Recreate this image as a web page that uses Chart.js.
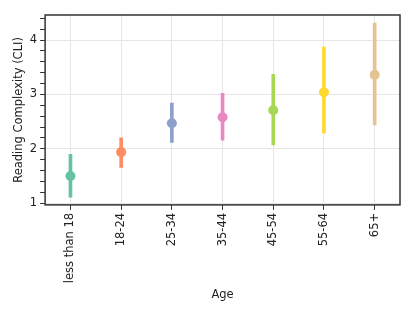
<!DOCTYPE html>
<html>
<head>
<meta charset="utf-8">
<script src="https://cdn.jsdelivr.net/npm/chart.js@4"></script>
<style>
  html, body { margin: 0; padding: 0; background: #fff; }
  #wrap { width: 415px; height: 312px; }
</style>
</head>
<body>
<div id="wrap"><canvas id="chart"></canvas></div>
<script>
const ages = ["less than 18", "18-24", "25-34", "35-44", "45-54", "55-64", "65+"];
const cliMean = [1.50, 1.94, 2.47, 2.58, 2.71, 3.04, 3.36];
const cliLow = [1.11, 1.66, 2.12, 2.16, 2.07, 2.29, 2.44];
const cliHigh = [1.90, 2.20, 2.84, 3.02, 3.37, 3.87, 4.31];
const colors = ["#66c2a5", "#fc8d62", "#8da0cb", "#e78ac3", "#a6d854", "#ffd92f", "#e5c494"];
const yTicks = [1, 1.2, 1.4, 1.6, 1.8, 2, 2.2, 2.4, 2.6, 2.8, 3, 3.2, 3.4, 3.6, 3.8, 4, 4.2, 4.4];

const isMajor = v => Math.abs(v - Math.round(v)) < 1e-6;
const font = { family: "DejaVu Sans", size: 11.5 };

/* frame around the plot */
const frame = {
  id: "frame",
  afterDraw(chart) {
    const a = chart.chartArea, ctx = chart.ctx;
    ctx.save();
    ctx.strokeStyle = "#333";
    ctx.lineWidth = 1.5;
    ctx.strokeRect(a.left, a.top, a.right - a.left, a.bottom - a.top);
    ctx.restore();
  }
};

const ctx = document.getElementById("chart");
new Chart(ctx, {
  data: {
    labels: ages,
    datasets: [{
      type: "bar",
      data: ages.map((a, i) => [cliLow[i], cliHigh[i]]),
      backgroundColor: colors,
      barThickness: 3,
      borderWidth: 0,
      order: 2
    }, {
      type: "line",
      data: cliMean,
      showLine: false,
      pointRadius: 5,
      pointBackgroundColor: colors,
      pointBorderWidth: 0,
      order: 1
    }]
  },

  options: {
    responsive: true,
    maintainAspectRatio: false,
    animation: false,
    layout: {
      padding: { top: 15, right: 15, left: 12, bottom: 10 }
    },
    scales: {
      x: {
        type: "category",
        offset: true,
        ticks: {
          color: "#222",
          minRotation: 90,
          maxRotation: 90,
          padding: 3,
          font: font
        },
        grid: {
          color: "#e6e6e6",
          tickColor: "#333",
          tickLength: 5,
          offset: false
        },
        border: { display: false },
        title: {
          display: true,
          text: "Age",
          color: "#222",
          padding: { top: 2, bottom: 0 },
          font: font
        }
      },
      y: {
        min: 0.97,
        max: 4.46,
        afterBuildTicks: axis => {
          axis.ticks = yTicks.map(v => ({ value: v }));
        },
        ticks: {
          color: "#222",
          padding: 3,
          autoSkip: false,
          font: font,
          callback: function (value) {
            return isMajor(value) ? String(Math.round(value)) : "";
          }
        },
        grid: {
          color: c => isMajor(c.tick.value) ? "#e6e6e6" : "rgba(0,0,0,0)",
          tickColor: "#333",
          tickLength: 5
        },
        border: { display: false },
        title: {
          display: true,
          text: "Reading Complexity (CLI)",
          color: "#222",
          padding: { top: 0, bottom: 1 },
          font: font
        }
      }
    },
    plugins: {
      legend: { display: false },
      tooltip: { enabled: false }
    }
  },
  plugins: [frame]
});
</script>
</body>
</html>
